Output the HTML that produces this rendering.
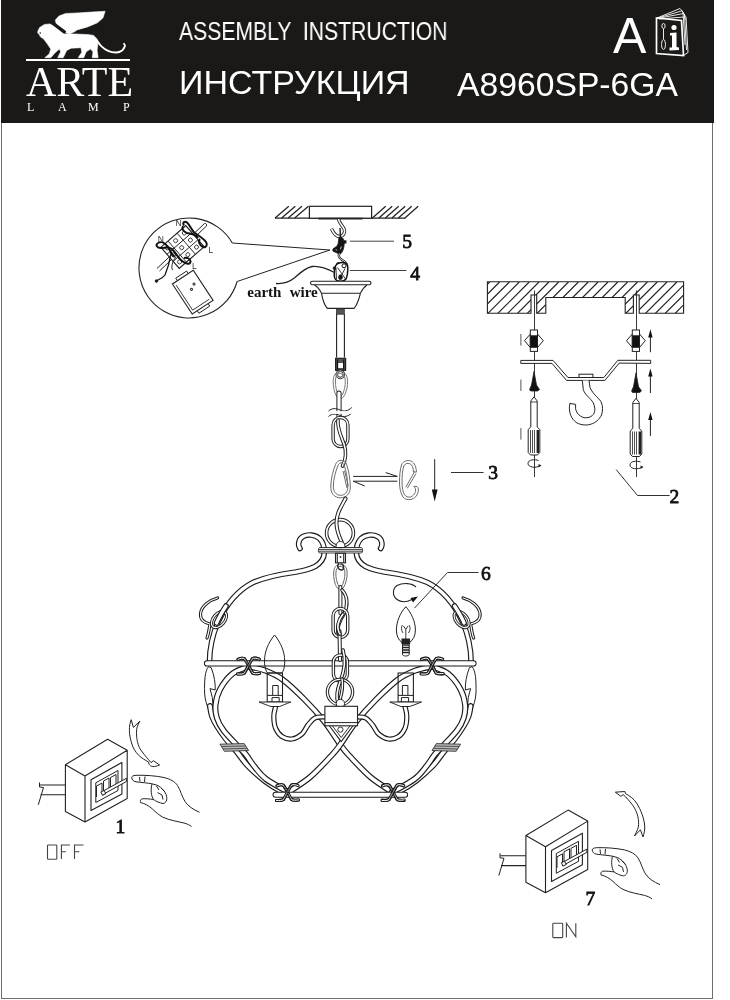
<!DOCTYPE html>
<html><head><meta charset="utf-8">
<style>
html,body{margin:0;padding:0;background:#fff;width:730px;height:1000px;overflow:hidden;-webkit-font-smoothing:antialiased;}
svg text{will-change:transform;}
.t{will-change:transform;}
body{position:relative;font-family:"Liberation Sans",sans-serif;}
#hdr{position:absolute;left:1px;top:0;width:713px;height:122.5px;background:#1b1917;}
#frame{position:absolute;left:1px;top:0;width:710px;height:997.5px;border:1.5px solid #6e6e6e;border-top:none;}
.lp{top:101px;font-size:12px;font-family:'Liberation Serif',serif;}
.t{position:absolute;color:#fff;white-space:pre;line-height:1;}
svg{position:absolute;left:0;top:0;}
</style></head><body>
<div id="frame"></div>
<div id="hdr"></div>
<div class="t" id="t1" style="left:179px;top:18.5px;font-size:25.5px;transform:scaleX(0.83);transform-origin:0 0;">ASSEMBLY  INSTRUCTION</div>
<div class="t" id="t2" style="left:179px;top:65px;font-size:34px;">ИНСТРУКЦИЯ</div>
<div class="t" id="t3" style="left:612.5px;top:11px;font-size:50px;">A</div>
<div class="t" id="t4" style="left:457px;top:67.5px;font-size:33.7px;">A8960SP-6GA</div>
<div class="t" id="t5" style="left:26px;top:60.5px;font-size:42px;font-family:'Liberation Serif',serif;">ARTE</div>
<div class="t lp" style="left:27px;">L</div><div class="t lp" style="left:58px;">A</div><div class="t lp" style="left:88px;">M</div><div class="t lp" style="left:123px;">P</div>
<svg width="730" height="1000" viewBox="0 0 730 1000" id="draw">
<g id="logo" fill="#fff" stroke="none">
<rect x="26" y="59" width="104" height="2"/>
<path d="M55.3,20.1 L59.0,16.0 L65.6,13.5 L77.9,12.9 L91.6,12.1 L105.1,11.3 L102.9,18.0 L97.4,22.8 L87.5,26.9 L77.9,29.7 L73.8,32.1 L69.7,34.0 L65.3,32.8 L60.4,28.3 L56.3,24.2 Z" stroke="#fff" stroke-width="0.6" stroke-linejoin="round"/>
<path d="M37.9,31.0 L39.6,27.6 L44.4,24.5 L49.9,23.9 L55.3,26.2 L60.8,31.0 L64.9,34.0 L75.2,34.0 L87.5,34.5 L93.7,35.4 L97.1,39.2 L97.8,44.7 L97.1,50.2 L98.1,57.7 L92.3,57.7 L93.0,51.6 L90.3,49.1 L86.2,51.8 L83.7,57.7 L78.2,57.7 L81.8,52.3 L81.0,47.7 L71.1,48.2 L66.7,50.5 L63.2,57.7 L57.7,57.7 L60.7,51.8 L59.3,49.1 L54.9,52.9 L50.8,57.7 L44.8,57.7 L49.2,54.0 L50.8,49.1 L47.1,43.6 L43.7,39.0 L40.4,36.8 L39.3,34.5 L37.7,33.1 Z" stroke="#fff" stroke-width="0.6" stroke-linejoin="round"/>
<path d="M96.0,39.2 C96.9,40.4 99.2,44.2 101.2,46.1 C103.2,48.0 105.6,49.8 108.1,50.9 C110.6,52.0 114.0,52.6 116.3,52.5 C118.6,52.5 120.6,51.6 122.1,50.5 C123.5,49.4 124.6,47.2 124.9,46.1 C125.3,45.0 124.1,44.2 124.0,43.8" fill="none" stroke="#fff" stroke-width="1.9" stroke-linecap="round"/>
<path d="M50.5,21.5 L64.3,31.8" stroke="#1b1917" stroke-width="3.4" stroke-linecap="round" fill="none"/>
<path d="M75.5,31 L86,28.5 L97,25.5 L104,22 L104,30 L97,33 L86,33.5 Z" fill="#1b1917" stroke="none"/>
<circle cx="40.3" cy="33" r="0.8" fill="#1b1917"/>
</g>
<g id="book" fill="none" stroke="#fff" stroke-width="0.9">
<path d="M656.5,18 L681.5,20.5 L683.5,55.5 L656.5,53.5 Z" fill="#1c1a19" stroke-width="1.7"/>
<path d="M657,18 L680,8.5 L683,12 L685,45" />
<path d="M657.5,18.2 L682,10.8 L684.5,14.5 L686.5,50"/>
<path d="M658,18.4 L683.5,13.5 L686,17 L688,52.5 L683.5,55.5"/>
<path d="M659,19 L684,17 L686,19.5"/>
<ellipse cx="663.5" cy="26" rx="1.6" ry="2.6"/>
<path d="M663.5,28.6 L663.5,39"/>
<ellipse cx="663.5" cy="44.5" rx="2" ry="5"/>
<circle cx="674" cy="27.5" r="2.6" fill="#fff" stroke="none"/>
<path d="M670,33 L676.5,32.5 L676.5,47 L679,47.5 L679,50 L669.5,50.5 L669.5,47.5 L672,47.5 L672,35.5 L670,35.5 Z" fill="#fff" stroke="none"/>
</g>
<g id="top" fill="none" stroke="#222" stroke-width="1">
<!-- ceiling hatch -->
<path d="M275,218.2 L405.5,218.2" stroke-width="1.2"/>
<path d="M275.1,218 L288.8,206.3 M281.6,218 L295.3,206.3 M288.2,218 L301.9,206.3 M294.7,218 L308.4,206.3 M372.4,218 L385.7,206.3 M378.9,218 L392.2,206.3 M385.4,218 L398.7,206.3 M391.9,218 L405.2,206.3 M398.4,218 L411.7,206.3 M404.9,218 L418.2,206.3" stroke-width="1.25"/>
<rect x="309.4" y="206.3" width="62.2" height="11.9" fill="#fff" stroke-width="1.2"/>
<path d="M318.5,218.6 L362.5,218.6" stroke-width="1.8"/>
<!-- hook -->
<path d="M338.5,219 C339,223 343,226 344.3,229.5 C345.5,233 343,236.5 339.5,236.5 C336,236.5 333,232 331.5,228.8" stroke-width="3.4"/>
<path d="M338.5,219 C339,223 343,226 344.3,229.5 C345.5,233 343,236.5 339.5,236.5 C336,236.5 333,232 331.5,228.8" stroke="#fff" stroke-width="1.6"/>
<path d="M340,228 L340.5,238" stroke-width="1.4"/>
<!-- connector 5 -->
<path d="M340.2,236.8 C342.8,237.2 344.3,239.5 344.2,244 C344,248.5 342.5,252.5 339.8,254.5 C337.5,253.3 335.5,252 333.5,251.5 C332.2,250.8 332.6,248.6 334.5,247.8 C337,246.8 338.3,244.5 338.5,241 C338.6,238.5 339,236.8 340.2,236.8 Z" fill="#151515" stroke="#151515" stroke-width="0.8"/>
<rect x="343.8" y="240.3" width="2.6" height="3.2" fill="#151515" stroke="none"/>
<path d="M341.3,246.5 L340.4,249.5 M335.6,249.6 L337.2,250.1" stroke="#fff" stroke-width="0.7"/>
<!-- wavy wire -->
<path d="M339.5,253.5 C338,256 339,258 341.5,259.5 C344,261 346,262 346.5,264" stroke-width="2.4"/>
<path d="M339.5,253.5 C338,256 339,258 341.5,259.5 C344,261 346,262 346.5,264" stroke="#fff" stroke-width="0.9"/>
<!-- connector 4 -->
<path d="M335.5,266 C337,263 340,262.5 343,262.6 C346,262.8 347.8,264.5 347.8,267.5 C347.8,272 347.5,276 346,279 C344.5,281 341,281.5 338.5,281 C336,280.5 334.5,279 334.3,276 C334.2,272 334.5,268.5 335.5,266 Z" fill="#fff" stroke="#111" stroke-width="1.5"/>
<circle cx="344" cy="265.8" r="2" fill="none" stroke="#111" stroke-width="1"/>
<path d="M337.5,267.5 L345.5,279 M345,268.5 L339.5,279.5 M336,269 L336.5,279" stroke="#222" stroke-width="0.9"/>
<ellipse cx="340.5" cy="277.2" rx="1.8" ry="2.4" fill="#111"/>
<circle cx="334.6" cy="268.2" r="1.4" fill="#111"/>
<path d="M336.5,263.8 L339,262.8" stroke="#111" stroke-width="1.5"/>
<!-- earth wire -->
<path d="M276,283.5 C284,284.2 290,281.5 295,277.5 C300,273 305,268 312,266.5 C320,265.5 328,269 334.5,272.5" stroke-width="1.3"/>
<!-- canopy -->
<path d="M312,281.2 L369.5,281.2 C371.5,281.5 371.5,284.5 369.5,284.8 L312,284.8 C310,284.5 310,281.5 312,281.2 Z" fill="#fff" stroke-width="1.1"/>
<path d="M314.5,285 C318,287 320,290 321.5,293.3 L360.4,293.3 C362,290 364,287 367,285" stroke-width="1.1"/>
<path d="M321.5,293.3 C322.5,299 324.5,305 327.3,308.4 L354,308.4 C357,305 359,299 360.4,293.3" stroke-width="1.1"/>
<rect x="336.5" y="309" width="7.8" height="5.2" fill="#555" stroke="#333" stroke-width="0.8"/>
<path d="M336.6,314 L336.6,357.5 M344.4,314 L344.4,357.5" stroke-width="1.1"/>
<!-- leader lines -->
<path d="M349.9,241.2 L394,241.2 M349.9,270.5 L406.5,270.5" stroke="#444" stroke-width="1"/>
<!-- callout -->
<path d="M232.3,243 L329.9,250 L237.1,281.5" stroke-width="1"/>
<path d="M232.3,243 A50,50 0 1 0 237.1,281.5" stroke-width="1.1"/>
</g>
<g id="inset" fill="none" stroke="#222" stroke-width="1">
<!-- rod through block -->
<path d="M157,268.5 L204.5,223.5 M159.5,271 L206.5,226" stroke-width="1"/>
<path d="M204.5,223.5 C206,223 207,224.5 206.5,226"/>
<!-- block -->
<g transform="translate(182.5,247) rotate(-41)">
<rect x="-16.5" y="-14" width="33" height="28" fill="#fff" stroke-width="1.1"/>
<path d="M-16.5,-4.7 L16.5,-4.7 M-16.5,4.7 L16.5,4.7 M-7,-14 L-7,14 M5,-14 L5,14" stroke-width="0.9"/>
<circle cx="-12" cy="-9.3" r="2" stroke-width="0.8"/><circle cx="-1" cy="-9.3" r="2" stroke-width="0.8"/><circle cx="10.5" cy="-9.3" r="2" stroke-width="0.8"/>
<circle cx="-12" cy="0" r="2" stroke-width="0.8"/><circle cx="-1" cy="0" r="2" stroke-width="0.8"/><circle cx="10.5" cy="0" r="2" stroke-width="0.8"/>
<circle cx="-12" cy="9.3" r="2" stroke-width="0.8"/><circle cx="-1" cy="9.3" r="2" stroke-width="0.8"/><circle cx="10.5" cy="9.3" r="2" stroke-width="0.8"/>
</g>
<!-- wires loops -->
<path d="M184,225.5 C182,222 185,221 187,222.5 C190,225 192,231 195,233 C199,236 203,238 206,242 C208,245 206,248 203,247 C199,245 198,241 200,239" stroke="#111" stroke-width="2"/>
<path d="M183,226 C181,229 184,232 187,233 C191,234 196,234 198,238" stroke="#111" stroke-width="2"/>
<path d="M158,243 C155,245 157,248 161,248 C165,248 168,246 172,249 C176,253 178,258 182,261 C186,264 190,265 190.5,262 C191,259 187,257 184,258" stroke="#111" stroke-width="2"/>
<path d="M158,243 C161,241 165,243 168,247 C170,250 171,254 175,257" stroke="#111" stroke-width="2"/>
<path d="M171,253 C170,260 168,268 165,275 C163,278 160,279 157,280.5" stroke="#111" stroke-width="1.3"/>
<circle cx="156.5" cy="281" r="1.3" fill="#111"/>
<path d="M176,257 C172,262 171,267 172.5,270"/>
<!-- transformer -->
<g transform="translate(172.4,284) rotate(-33.4)">
<path d="M0,0 L25,0 L25,36 L0,36 Z" fill="#fff" stroke-width="1.1"/>
<path d="M2.5,3 L2.5,33 L22.5,33" stroke-width="0.8"/>
<path d="M6,0 L6,-3 L19,-3 L19,0 M6,36 L6,39 L19,39 L19,36" stroke-width="0.9"/>
<circle cx="13" cy="15" r="1"/><circle cx="18" cy="12" r="1"/>
</g>
</g>
<g font-family="Liberation Sans" font-size="8.5" fill="#333" stroke="none">
<text x="175.5" y="225.8">N</text><text x="157.8" y="241.5">N</text><text x="208.5" y="253">L</text><text x="192" y="268.5">L</text>
</g>
<g id="right" fill="none" stroke="#222" stroke-width="1">
<clipPath id="rclip"><path d="M487.4,281.8 L683.6,281.8 L683.6,313.2 L639.2,313.2 L639.2,295 L633.4,295 L633.4,313.2 L625.2,313.2 L625.2,297.5 L545.8,297.5 L545.8,313.2 L536.7,313.2 L536.7,295 L531,295 L531,313.2 L487.4,313.2 Z"/></clipPath>
<path d="M447.9,314 L479.9,282 M457.8,314 L489.8,282 M467.6,314 L499.6,282 M477.4,314 L509.4,282 M487.3,314 L519.3,282 M497.2,314 L529.2,282 M507.0,314 L539.0,282 M516.9,314 L548.9,282 M526.7,314 L558.7,282 M536.5,314 L568.5,282 M546.4,314 L578.4,282 M556.2,314 L588.2,282 M566.1,314 L598.1,282 M576.0,314 L608.0,282 M585.8,314 L617.8,282 M595.6,314 L627.6,282 M605.5,314 L637.5,282 M615.4,314 L647.4,282 M625.2,314 L657.2,282 M635.0,314 L667.0,282 M644.9,314 L676.9,282 M654.8,314 L686.8,282 M664.6,314 L696.6,282 M674.5,314 L706.5,282 M684.3,314 L716.3,282 M694.1,314 L726.1,282 M704.0,314 L736.0,282 M713.9,314 L745.9,282 M723.7,314 L755.7,282 M733.5,314 L765.5,282" clip-path="url(#rclip)" stroke-width="1.1"/>
<path d="M487.4,281.8 L683.6,281.8 L683.6,313.2 L639.2,313.2 L639.2,295 L633.4,295 L633.4,313.2 L625.2,313.2 L625.2,297.5 L545.8,297.5 L545.8,313.2 L536.7,313.2 L536.7,295 L531,295 L531,313.2 L487.4,313.2 Z" stroke-width="1.1"/>
<!-- axis lines -->
<path d="M534.5,290.5 L534.5,477 M636.5,290.5 L636.5,477" stroke-width="0.9"/>
<!-- anchors -->
<g id="anc">
<rect x="530.3" y="330" width="7.2" height="21.4" fill="#fff"/>
<rect x="530.3" y="335.8" width="7.2" height="11.5" fill="#111"/>
<path d="M530.3,334 L524.5,340.7 L530.3,347.5 M537.5,334 L543.3,340.7 L537.5,347.5"/>
</g>
<use href="#anc" transform="translate(102,0)"/>
<!-- bracket -->
<path d="M520.8,360.4 L553,360.4 L567.9,377.5 L603.9,377.5 L617.8,360.3 L650.7,360.3 L650.7,363.4 L619.2,363.1 L604.9,380.4 L566.5,380.4 L552,363.4 L520.8,363.4 Z" fill="#fff" stroke-width="1"/>
<rect x="579" y="374.2" width="13.9" height="3.3" fill="#fff"/>
<!-- hook -->
<path d="M589,380.4 L590,387.6 C591.5,391 594,394 596.2,396.2 C599,399 601,401 601.5,403 C602.8,406 603,411 601.5,415 C599.5,419.5 595,423 591.4,424 C589.5,424.8 587.5,425 585.7,425 C582,425 579,424 577,423 C574,421 572,418.5 570.8,415.4 C569.6,412.5 569.3,409.5 569.4,406.8 L569.9,403.4 L575.6,404.4 L575.6,408.7 C576,411 577.3,413.5 579,414.9 C581,416.8 583.5,417.8 585.7,417.8 C589,417.8 591.8,416.5 593.4,414.4 C594.5,412.5 595,410.5 594.8,408.7 C594.6,406.5 594,404.8 593.4,403 C592,400.5 589.8,398.5 587.6,396.2 C585.5,394 584,392 583.3,389.5 L582.3,380.4" fill="#fff"/>
<!-- screws -->
<g id="scr">
<path d="M534,371.4 L531.5,385 L529.6,389.5 L530.5,391 L537.5,391 L539.5,389.5 L536.5,385 Z" fill="#111" stroke-width="0.8"/>
<path d="M534,396.8 L530.8,401 L530.8,427 L528.2,429.5 L528.2,452.5 L530.5,455 L537.5,455 L539.8,452.5 L539.8,429.5 L537.2,427 L537.2,401 Z" fill="#fff"/>
<path d="M530.8,402 L537.2,402 M530.5,430 L530.5,453 M532.5,430 L532.5,453 M534.5,430 L534.5,453" stroke-width="0.8"/>
<rect x="536.6" y="430" width="2.4" height="23" fill="#222" stroke="none"/>
<path d="M538.5,460.5 C535,459 528,459.5 528,463.5 C528,467.5 536,468.5 540.5,465.5" stroke-width="1"/>
<path d="M538.5,464 L541.5,465.5 L538.5,467.5 Z" fill="#222" stroke="none"/>
</g>
<use href="#scr" transform="translate(102,1.5)"/>
<!-- dashes left -->
<path d="M520.9,334 L520.9,345.6 M520.9,379.6 L520.9,391 M520.9,428 L520.9,439.6" stroke="#555" stroke-width="1"/>
<!-- arrows right -->
<path d="M650.4,336 L650.4,352.2 M650.4,375 L650.4,393 M650.4,419 L650.4,435.9" stroke-width="1"/>
<path d="M650.4,329.2 L648.2,337.5 L652.6,337.5 Z M650.4,368.6 L648.2,376.5 L652.6,376.5 Z M650.4,412 L648.2,420 L652.6,420 Z" fill="#111" stroke="none"/>
<!-- leader 2 -->
<path d="M616.2,469.6 L637.5,495.5 L669.6,495.5" stroke="#333"/>
</g>
<text x="669.5" y="502.5" font-family="Liberation Serif" font-size="19.5" fill="#111" stroke="#111" stroke-width="0.8">2</text>
<!--CHAIN--><g id="chain">
<rect x="335.6" y="358.3" width="10" height="12" fill="#555" stroke="#222" stroke-width="1.2"/><path d="M337.5,359.5 L337.5,369.5 M343.7,359.5 L343.7,369.5" stroke="#111" stroke-width="1.2"/><rect x="338.2" y="363" width="4.8" height="5" fill="#fff" stroke="none"/>
<circle cx="340.3" cy="374.4" r="3.6" fill="none" stroke="#222" stroke-width="2.4"/><circle cx="340.3" cy="374.4" r="3.6" fill="none" stroke="#fff" stroke-width="0.8"/>
<g fill="none" stroke="#777" stroke-width="1">
<path d="M340.3,371.3 C343.5,371.5 346.5,374 347.2,377.5 C348,381 347.8,388 345.5,393 C344.2,396.5 342.5,398.6 340.3,398.6 C338,398.6 336.2,396.5 335,393 C333,387 332.8,381 333.6,377.5 C334.3,374 337,371.3 340.3,371.3 Z"/>
<path d="M340.3,373.5 C342.5,373.7 344.5,375.5 345,378 C345.6,381.5 345.4,387.5 343.5,392 C342.5,395 341.5,396.3 340.3,396.3 C339,396.3 338,395 337.1,392 C335.3,387 335.1,381.5 335.7,378 C336.2,375.5 338,373.5 340.3,373.5 Z"/>
</g>
<path d="M339,393 L339,416" stroke="#222" stroke-width="5.2" fill="none" stroke-linecap="round"/><path d="M339,393 L339,416" stroke="#fff" stroke-width="3.2" fill="none" stroke-linecap="round"/>
<path d="M328.5,411 C332,408 336,408 340,410 C344,412 348,411 351.8,407.5 M328.5,416.5 C332,413.5 336,413.5 340,415.5 C344,417.5 348,416.5 351.8,413" fill="none" stroke="#222" stroke-width="1"/>
<rect x="330" y="411.2" width="22" height="2.6" fill="#fff" stroke="none"/>
<rect x="333.1" y="417.5" width="14.8" height="29.0" rx="7.4" ry="7.4" fill="none" stroke="#222" stroke-width="3.4"/><rect x="333.1" y="417.5" width="14.8" height="29.0" rx="7.4" ry="7.4" fill="none" stroke="#fff" stroke-width="1.4"/>
<path d="M338,420 C337,428 341,436 344,444 C346.5,451 346,460 342.5,466" stroke="#222" stroke-width="3.6" fill="none" stroke-linecap="round"/><path d="M338,420 C337,428 341,436 344,444 C346.5,451 346,460 342.5,466" stroke="#fff" stroke-width="1.6" fill="none" stroke-linecap="round"/>
<g fill="none" stroke="#6a6a6a" stroke-width="1">
<path d="M341,460.3 C338,460.5 336.5,462 335.5,464.5 C333,471 331,478 330.8,486 C330.5,493 334,497.8 340.5,497.8 C346.5,497.8 350.3,493.5 350.3,487 C350.3,479 348.5,470 346.5,464 C345.5,461.5 343.5,460.2 341,460.3 Z"/>
<path d="M341,462.8 C339.5,463 338.5,464 337.8,466 C335.5,472 333.5,479 333.3,486 C333.2,491.5 336,495.3 340.5,495.3 C345,495.3 347.8,492 347.8,487 C347.8,479.5 346.2,471.5 344.5,466 C343.8,463.8 342.5,462.7 341,462.8 Z"/>
<path d="M343,471 L347,488 M344.5,470.5 L348.3,486"/>
<path d="M416.5,472 C416,467 415,463 411,461 C407,459.8 403,461 401.5,465 C400,470 399.5,476 399.5,482 C399.5,488 400.5,493 403,497 C405,499.5 408,500 411,499.5 C414.5,498.5 417,496 418,492.5 C418.8,489.5 418.3,487.5 417,486.5"/>
<path d="M413.5,472 C413.3,468 412.5,465 410,463.8 C407.5,462.8 405,463.5 403.8,466 C402.5,470 402,476 402,482 C402,488 403,492 404.5,494.8 C406,496.8 408,497.3 410.5,497 C413,496.2 414.8,494 415.5,491.5 C416,489.5 415.2,487.5 413.8,486.3"/>
<path d="M416.5,472 L413.5,472 M414.7,471.4 L405.8,487.2 M416,473.5 L407.3,488.3 M417,486.5 L413.8,486.3"/>
</g>
<path d="M353.2,476.4 L397.3,476.4 L385.8,472.6 M397.3,481.2 L353.2,481.2 L364.7,486" fill="none" stroke="#222" stroke-width="1"/>
<path d="M434.7,459.2 L434.7,492" stroke="#222" stroke-width="1"/><path d="M431.8,489.5 L437.6,489.5 L434.7,501.4 Z" fill="#111"/>
<path d="M451,472.5 L483.6,472.5" stroke="#333" stroke-width="1"/>
</g>
<text x="488.2" y="479.3" font-family="Liberation Serif" font-size="19.5" fill="#111" stroke="#111" stroke-width="0.8">3</text><!--/CHAIN-->
<!--CHAND--><g id="chand">
<g id="chL"><path d="M300,548.5 C297.5,545 298.5,539 303,536.5 C308,534 315,534.5 319.5,538.5 C323,542 324.5,547 324.3,553 C324,558 321,563 315,566.5 C309,569.5 302,571 296,572 C285,573.5 268,576 253,582.5 C238,590 226,605 218,622 C212,636 209.5,648 209.5,662" stroke="#1a1a1a" stroke-width="5.6" fill="none" stroke-linecap="round"/><path d="M300,548.5 C297.5,545 298.5,539 303,536.5 C308,534 315,534.5 319.5,538.5 C323,542 324.5,547 324.3,553 C324,558 321,563 315,566.5 C309,569.5 302,571 296,572 C285,573.5 268,576 253,582.5 C238,590 226,605 218,622 C212,636 209.5,648 209.5,662" stroke="#fff" stroke-width="3.3" fill="none" stroke-linecap="round"/>
<path d="M217.5,598 C210,600 201,606 200.5,614 C200,620 205,623 210,624 C209,630 208.5,634 207,638" stroke="#1a1a1a" stroke-width="3.2" fill="none" stroke-linecap="round"/><path d="M217.5,598 C210,600 201,606 200.5,614 C200,620 205,623 210,624 C209,630 208.5,634 207,638" stroke="#fff" stroke-width="1.2000000000000002" fill="none" stroke-linecap="round"/>
<ellipse cx="219" cy="619.5" rx="9.5" ry="5.8" transform="rotate(-50 219 619.5)" stroke="#222" stroke-width="3" fill="none"/><ellipse cx="219" cy="619.5" rx="9.5" ry="5.8" transform="rotate(-50 219 619.5)" stroke="#fff" stroke-width="1.2" fill="none"/>
<path d="M226,606 C222,612 219,617 216.5,623" stroke="#1a1a1a" stroke-width="5.6" fill="none" stroke-linecap="round"/><path d="M226,606 C222,612 219,617 216.5,623" stroke="#fff" stroke-width="3.3" fill="none" stroke-linecap="round"/>
<path d="M208.5,666.6 C205,671 204.3,680 204.6,693 C205,700 207,706 209,710 C211,716 213,720 214.5,722 L212.3,697.4 L210,688.6 L215.2,690 C215.5,684 214.5,676 211.2,667.7 Z" fill="#fff" stroke="#222" stroke-width="1"/>
<path d="M210.0,706.0 C210.3,707.7 210.8,712.7 212.0,716.0 C213.2,719.3 214.7,722.2 217.0,726.0 C219.3,729.8 222.7,734.7 226.0,739.0 C229.3,743.3 233.3,747.5 237.0,752.0 C240.7,756.5 243.3,761.2 248.0,766.0 C252.7,770.8 259.5,776.8 265.0,781.0 C270.5,785.2 277.0,789.0 281.0,791.0 C285.0,793.0 287.7,792.7 289.0,793.0" stroke="#1a1a1a" stroke-width="6.0" fill="none" stroke-linecap="round"/><path d="M210.0,706.0 C210.3,707.7 210.8,712.7 212.0,716.0 C213.2,719.3 214.7,722.2 217.0,726.0 C219.3,729.8 222.7,734.7 226.0,739.0 C229.3,743.3 233.3,747.5 237.0,752.0 C240.7,756.5 243.3,761.2 248.0,766.0 C252.7,770.8 259.5,776.8 265.0,781.0 C270.5,785.2 277.0,789.0 281.0,791.0 C285.0,793.0 287.7,792.7 289.0,793.0" stroke="#fff" stroke-width="3.7" fill="none" stroke-linecap="round"/>
<path d="M248.0,666.5 C245.4,667.7 237.2,669.9 232.5,673.7 C227.8,677.5 222.8,684.3 220.0,689.5 C217.2,694.7 216.0,700.2 215.5,705.0 C215.0,709.8 215.7,714.1 217.0,718.3 C218.3,722.5 220.4,726.2 223.5,730.4 C226.6,734.6 231.7,739.7 235.4,743.6 C239.1,747.5 242.4,750.3 245.5,754.0 C248.6,757.7 250.6,761.8 254.0,766.0 C257.4,770.2 260.2,774.6 266.0,779.0 C271.8,783.4 285.2,790.2 289.0,792.5" stroke="#1a1a1a" stroke-width="6.0" fill="none" stroke-linecap="round"/><path d="M248.0,666.5 C245.4,667.7 237.2,669.9 232.5,673.7 C227.8,677.5 222.8,684.3 220.0,689.5 C217.2,694.7 216.0,700.2 215.5,705.0 C215.0,709.8 215.7,714.1 217.0,718.3 C218.3,722.5 220.4,726.2 223.5,730.4 C226.6,734.6 231.7,739.7 235.4,743.6 C239.1,747.5 242.4,750.3 245.5,754.0 C248.6,757.7 250.6,761.8 254.0,766.0 C257.4,770.2 260.2,774.6 266.0,779.0 C271.8,783.4 285.2,790.2 289.0,792.5" stroke="#fff" stroke-width="3.7" fill="none" stroke-linecap="round"/>
<path d="M249.0,666.5 C251.7,667.2 259.4,668.3 265.0,670.5 C270.6,672.7 276.0,674.8 282.5,679.5 C289.0,684.2 297.0,692.0 304.0,699.0 C311.0,706.0 318.2,713.9 324.4,721.7 C330.6,729.5 336.9,740.0 341.2,745.9 C345.5,751.8 345.4,751.5 350.3,756.8 C355.2,762.0 363.7,771.4 370.8,777.4 C377.9,783.4 389.3,790.0 393.0,792.5" stroke="#1a1a1a" stroke-width="6.0" fill="none" stroke-linecap="round"/><path d="M249.0,666.5 C251.7,667.2 259.4,668.3 265.0,670.5 C270.6,672.7 276.0,674.8 282.5,679.5 C289.0,684.2 297.0,692.0 304.0,699.0 C311.0,706.0 318.2,713.9 324.4,721.7 C330.6,729.5 336.9,740.0 341.2,745.9 C345.5,751.8 345.4,751.5 350.3,756.8 C355.2,762.0 363.7,771.4 370.8,777.4 C377.9,783.4 389.3,790.0 393.0,792.5" stroke="#fff" stroke-width="3.7" fill="none" stroke-linecap="round"/>
<path d="M275.5,707.0 C275.2,708.5 273.8,712.5 273.8,716.0 C273.8,719.5 274.1,724.6 275.5,728.0 C276.9,731.4 279.2,734.7 282.0,736.5 C284.8,738.3 288.7,739.4 292.0,739.0 C295.3,738.6 299.3,736.3 302.0,734.0 C304.7,731.7 305.8,727.7 308.0,725.0 C310.2,722.3 312.2,719.4 315.0,718.0 C317.8,716.6 323.3,717.0 325.0,716.8" stroke="#1a1a1a" stroke-width="5.2" fill="none" stroke-linecap="round"/><path d="M275.5,707.0 C275.2,708.5 273.8,712.5 273.8,716.0 C273.8,719.5 274.1,724.6 275.5,728.0 C276.9,731.4 279.2,734.7 282.0,736.5 C284.8,738.3 288.7,739.4 292.0,739.0 C295.3,738.6 299.3,736.3 302.0,734.0 C304.7,731.7 305.8,727.7 308.0,725.0 C310.2,722.3 312.2,719.4 315.0,718.0 C317.8,716.6 323.3,717.0 325.0,716.8" stroke="#fff" stroke-width="2.9" fill="none" stroke-linecap="round"/>
<rect x="267.2" y="673" width="15.3" height="29" fill="none" stroke="#222" stroke-width="1.1"/>
<path d="M272.7,695.4 L272.7,685.5 L278.2,685.5 L278.2,695.4 M267.2,695.4 L282.5,695.4 M272,702 L272,697.6 L279.2,697.6 L279.2,702" fill="none" stroke="#222" stroke-width="1"/>
<path d="M259,702 L290.8,702 C286,704 282,705.5 279.8,706.5 L271,706.5 C268,705.5 264,704 259,702 Z" fill="#fff" stroke="#222" stroke-width="1"/>
<g transform="translate(248.5,666) scale(1.0)" fill="none" stroke-linecap="round"><path d="M-10.5,-6.6 C-8,-7.8 -5.5,-8.2 -4,-7.2 C-2,-4.5 2,3.5 4,7 C5.5,8 8,7.8 11,7.4" stroke="#1a1a1a" stroke-width="3.0"/><path d="M-10.5,-6.6 C-8,-7.8 -5.5,-8.2 -4,-7.2 C-2,-4.5 2,3.5 4,7 C5.5,8 8,7.8 11,7.4" stroke="#fff" stroke-width="1.0"/><path d="M10.7,-6.8 C8,-7.9 5.5,-8.2 4,-7.4 C2,-4.5 -2,3.5 -4,7 C-5.5,8.2 -8,8.2 -11,8" stroke="#1a1a1a" stroke-width="3.0"/><path d="M10.7,-6.8 C8,-7.9 5.5,-8.2 4,-7.4 C2,-4.5 -2,3.5 -4,7 C-5.5,8.2 -8,8.2 -11,8" stroke="#fff" stroke-width="1.0"/><path d="M-3,-6 L3,6 M3,-6 L-3,6" stroke="#1a1a1a" stroke-width="0.6"/></g>
<g transform="translate(287.5,792.5) scale(1.0)" fill="none" stroke-linecap="round"><path d="M-10.5,-6.6 C-8,-7.8 -5.5,-8.2 -4,-7.2 C-2,-4.5 2,3.5 4,7 C5.5,8 8,7.8 11,7.4" stroke="#1a1a1a" stroke-width="3.0"/><path d="M-10.5,-6.6 C-8,-7.8 -5.5,-8.2 -4,-7.2 C-2,-4.5 2,3.5 4,7 C5.5,8 8,7.8 11,7.4" stroke="#fff" stroke-width="1.0"/><path d="M10.7,-6.8 C8,-7.9 5.5,-8.2 4,-7.4 C2,-4.5 -2,3.5 -4,7 C-5.5,8.2 -8,8.2 -11,8" stroke="#1a1a1a" stroke-width="3.0"/><path d="M10.7,-6.8 C8,-7.9 5.5,-8.2 4,-7.4 C2,-4.5 -2,3.5 -4,7 C-5.5,8.2 -8,8.2 -11,8" stroke="#fff" stroke-width="1.0"/><path d="M-3,-6 L3,6 M3,-6 L-3,6" stroke="#1a1a1a" stroke-width="0.6"/></g>
<path d="M220,744.2 L244.2,743.6 L248.6,750.5 L224.4,751.3 Z" fill="#bbb" stroke="#333" stroke-width="0.9"/><path d="M221.5,746.5 L245.6,746 M223,749 L247.2,748.3" stroke="#333" stroke-width="0.8"/></g>
<use href="#chL" transform="translate(680.6,0) scale(-1,1)"/>
<path d="M207,663.4 L473.5,663.4" stroke="#1a1a1a" stroke-width="6.2" fill="none" stroke-linecap="round"/><path d="M207,663.4 L473.5,663.4" stroke="#fff" stroke-width="4.2" fill="none" stroke-linecap="round"/>
<path d="M275.5,794.8 L405.1,794.8" stroke="#1a1a1a" stroke-width="6.0" fill="none" stroke-linecap="round"/><path d="M275.5,794.8 L405.1,794.8" stroke="#fff" stroke-width="4.0" fill="none" stroke-linecap="round"/>
<g transform="translate(248.5,666) scale(1.0)" fill="none" stroke-linecap="round"><path d="M-10.5,-6.6 C-8,-7.8 -5.5,-8.2 -4,-7.2 C-2,-4.5 2,3.5 4,7 C5.5,8 8,7.8 11,7.4" stroke="#1a1a1a" stroke-width="3.0"/><path d="M-10.5,-6.6 C-8,-7.8 -5.5,-8.2 -4,-7.2 C-2,-4.5 2,3.5 4,7 C5.5,8 8,7.8 11,7.4" stroke="#fff" stroke-width="1.0"/><path d="M10.7,-6.8 C8,-7.9 5.5,-8.2 4,-7.4 C2,-4.5 -2,3.5 -4,7 C-5.5,8.2 -8,8.2 -11,8" stroke="#1a1a1a" stroke-width="3.0"/><path d="M10.7,-6.8 C8,-7.9 5.5,-8.2 4,-7.4 C2,-4.5 -2,3.5 -4,7 C-5.5,8.2 -8,8.2 -11,8" stroke="#fff" stroke-width="1.0"/><path d="M-3,-6 L3,6 M3,-6 L-3,6" stroke="#1a1a1a" stroke-width="0.6"/></g>
<g transform="translate(432.1,666) scale(1.0)" fill="none" stroke-linecap="round"><path d="M-10.5,-6.6 C-8,-7.8 -5.5,-8.2 -4,-7.2 C-2,-4.5 2,3.5 4,7 C5.5,8 8,7.8 11,7.4" stroke="#1a1a1a" stroke-width="3.0"/><path d="M-10.5,-6.6 C-8,-7.8 -5.5,-8.2 -4,-7.2 C-2,-4.5 2,3.5 4,7 C5.5,8 8,7.8 11,7.4" stroke="#fff" stroke-width="1.0"/><path d="M10.7,-6.8 C8,-7.9 5.5,-8.2 4,-7.4 C2,-4.5 -2,3.5 -4,7 C-5.5,8.2 -8,8.2 -11,8" stroke="#1a1a1a" stroke-width="3.0"/><path d="M10.7,-6.8 C8,-7.9 5.5,-8.2 4,-7.4 C2,-4.5 -2,3.5 -4,7 C-5.5,8.2 -8,8.2 -11,8" stroke="#fff" stroke-width="1.0"/><path d="M-3,-6 L3,6 M3,-6 L-3,6" stroke="#1a1a1a" stroke-width="0.6"/></g>
<g transform="translate(287.5,792.5) scale(1.0)" fill="none" stroke-linecap="round"><path d="M-10.5,-6.6 C-8,-7.8 -5.5,-8.2 -4,-7.2 C-2,-4.5 2,3.5 4,7 C5.5,8 8,7.8 11,7.4" stroke="#1a1a1a" stroke-width="3.0"/><path d="M-10.5,-6.6 C-8,-7.8 -5.5,-8.2 -4,-7.2 C-2,-4.5 2,3.5 4,7 C5.5,8 8,7.8 11,7.4" stroke="#fff" stroke-width="1.0"/><path d="M10.7,-6.8 C8,-7.9 5.5,-8.2 4,-7.4 C2,-4.5 -2,3.5 -4,7 C-5.5,8.2 -8,8.2 -11,8" stroke="#1a1a1a" stroke-width="3.0"/><path d="M10.7,-6.8 C8,-7.9 5.5,-8.2 4,-7.4 C2,-4.5 -2,3.5 -4,7 C-5.5,8.2 -8,8.2 -11,8" stroke="#fff" stroke-width="1.0"/><path d="M-3,-6 L3,6 M3,-6 L-3,6" stroke="#1a1a1a" stroke-width="0.6"/></g>
<g transform="translate(393.1,792.5) scale(1.0)" fill="none" stroke-linecap="round"><path d="M-10.5,-6.6 C-8,-7.8 -5.5,-8.2 -4,-7.2 C-2,-4.5 2,3.5 4,7 C5.5,8 8,7.8 11,7.4" stroke="#1a1a1a" stroke-width="3.0"/><path d="M-10.5,-6.6 C-8,-7.8 -5.5,-8.2 -4,-7.2 C-2,-4.5 2,3.5 4,7 C5.5,8 8,7.8 11,7.4" stroke="#fff" stroke-width="1.0"/><path d="M10.7,-6.8 C8,-7.9 5.5,-8.2 4,-7.4 C2,-4.5 -2,3.5 -4,7 C-5.5,8.2 -8,8.2 -11,8" stroke="#1a1a1a" stroke-width="3.0"/><path d="M10.7,-6.8 C8,-7.9 5.5,-8.2 4,-7.4 C2,-4.5 -2,3.5 -4,7 C-5.5,8.2 -8,8.2 -11,8" stroke="#fff" stroke-width="1.0"/><path d="M-3,-6 L3,6 M3,-6 L-3,6" stroke="#1a1a1a" stroke-width="0.6"/></g>
<rect x="318.3" y="547.3" width="44.3" height="5.8" rx="1.5" fill="#fff" stroke="none"/><path d="M319.5,547.5 L361.5,547.5 M318.8,549.4 L362.2,549.4 M318.8,551.2 L362.2,551.2 M319.5,553 L361.5,553 M319.5,547.5 C318,547.8 318,552.7 319.5,553 M361.5,547.5 C363,547.8 363,552.7 361.5,553" fill="none" stroke="#222" stroke-width="0.9"/>
<circle cx="340" cy="533" r="13.4" fill="none" stroke="#222" stroke-width="3.6"/><circle cx="340" cy="533" r="13.4" fill="none" stroke="#fff" stroke-width="1.6"/>
<path d="M345.5,498.5 C341,507 336,514 336.5,524 C337,533 340,538 342.5,544" stroke="#1a1a1a" stroke-width="4.0" fill="none" stroke-linecap="round"/><path d="M345.5,498.5 C341,507 336,514 336.5,524 C337,533 340,538 342.5,544" stroke="#fff" stroke-width="2.0" fill="none" stroke-linecap="round"/>
<path d="M336,547.5 C336,543 338,541.5 340.5,541.5 C343,541.5 345,543 345,547.5 Z" fill="#fff" stroke="#222" stroke-width="1"/>
<rect x="335.5" y="553.3" width="10" height="9.5" fill="#fff" stroke="#222" stroke-width="1.1"/><path d="M337.3,553.3 L337.3,562.8 M343.7,553.3 L343.7,562.8" stroke="#333" stroke-width="1.2"/><circle cx="340.5" cy="557" r="0.9" fill="#333"/>
<g stroke-linecap="round">
<g fill="none" stroke="#666" stroke-width="1"><path d="M340.5,564 C343.5,564.2 346.3,566.5 346.9,570 C347.5,573.5 347,580 345,584.5 C343.8,587.5 342.3,589.5 340.3,589.5 C338.2,589.5 336.5,587.5 335.4,584.5 C333.5,579 333.2,573.5 334,570 C334.8,566.5 337.3,564 340.5,564 Z"/><path d="M340.5,566.3 C342.5,566.5 344.3,568 344.7,570.5 C345.2,573.5 344.8,579 343.2,583 C342.3,585.5 341.4,587.2 340.3,587.2 C339.2,587.2 338.2,585.5 337.4,583 C335.8,578.5 335.5,573.5 336.2,570.5 C336.8,568 338.3,566.3 340.5,566.3 Z"/></g>
<path d="M338.5,563.5 C337,566 338,570 341.5,570 C344,570 344.5,566 342,564" fill="none" stroke="#222" stroke-width="1.4"/>
<path d="M340.4,587 L340.4,613" stroke="#1a1a1a" stroke-width="4.0" fill="none" stroke-linecap="round"/><path d="M340.4,587 L340.4,613" stroke="#fff" stroke-width="2.0" fill="none" stroke-linecap="round"/>
<path d="M342,590 C348,596 348,606 344,614 C340,620 337,626 338,633" stroke="#1a1a1a" stroke-width="3.6" fill="none" stroke-linecap="round"/><path d="M342,590 C348,596 348,606 344,614 C340,620 337,626 338,633" stroke="#fff" stroke-width="1.6" fill="none" stroke-linecap="round"/>
<rect x="333.09999999999997" y="608.5" width="14.6" height="29.0" rx="7.3" ry="7.3" fill="none" stroke="#222" stroke-width="3.4"/><rect x="333.09999999999997" y="608.5" width="14.6" height="29.0" rx="7.3" ry="7.3" fill="none" stroke="#fff" stroke-width="1.4"/>
<path d="M339.5,631 L340,660" stroke="#1a1a1a" stroke-width="4.0" fill="none" stroke-linecap="round"/><path d="M339.5,631 L340,660" stroke="#fff" stroke-width="2.0" fill="none" stroke-linecap="round"/>
<path d="M343,614 C338,620 336,628 340,634" stroke="#1a1a1a" stroke-width="3.6" fill="none" stroke-linecap="round"/><path d="M343,614 C338,620 336,628 340,634" stroke="#fff" stroke-width="1.6" fill="none" stroke-linecap="round"/>
<rect x="333.4" y="655" width="14" height="26" rx="7" ry="7" fill="none" stroke="#222" stroke-width="3.4"/><rect x="333.4" y="655" width="14" height="26" rx="7" ry="7" fill="none" stroke="#fff" stroke-width="1.4"/>
<path d="M343,650 C346,660 344,672 340,682 C337,690 336,697 338,703" stroke="#1a1a1a" stroke-width="3.6" fill="none" stroke-linecap="round"/><path d="M343,650 C346,660 344,672 340,682 C337,690 336,697 338,703" stroke="#fff" stroke-width="1.6" fill="none" stroke-linecap="round"/>
</g>
<circle cx="340" cy="692" r="12.6" fill="none" stroke="#222" stroke-width="3.4"/><circle cx="340" cy="692" r="12.6" fill="none" stroke="#fff" stroke-width="1.4"/>
<path d="M342,679 C344,688 341,696 339,703" stroke="#1a1a1a" stroke-width="3.4" fill="none" stroke-linecap="round"/><path d="M342,679 C344,688 341,696 339,703" stroke="#fff" stroke-width="1.4" fill="none" stroke-linecap="round"/>
<circle cx="340.4" cy="703.5" r="4.2" fill="#fff" stroke="#222" stroke-width="1"/>
<path d="M329.5,726 L341.2,741.5 L352.8,726" fill="#fff" stroke="#222" stroke-width="1.1"/><path d="M332.5,726 L341.2,737.5 L349.9,726" fill="none" stroke="#222" stroke-width="0.9"/><circle cx="340.4" cy="729.6" r="2.6" fill="#fff" stroke="#222" stroke-width="0.9"/>
<rect x="324.9" y="706.3" width="32.6" height="19.5" fill="#fff" stroke="#222" stroke-width="1.1"/><path d="M324.9,722.6 L357.5,722.6" stroke="#222" stroke-width="1"/>
<path d="M274.6,635 C268,643 264.5,652 264.5,661 C264.5,667 266,671 267.5,673 L282,673 C283.5,671 284.7,667 284.7,661 C284.7,652 281,643 274.6,635 Z" fill="none" stroke="#222" stroke-width="1"/>
<g fill="none" stroke="#222" stroke-width="1">
<path d="M405.8,606.7 C400,613 396.4,622 396.4,630 C396.4,636 398.5,640 402,642.5 L409.6,642.5 C413,640 415.4,636 415.4,630 C415.4,622 411.5,613 405.8,606.7 Z"/>
<path d="M403,633 C401,630 401,627 402.5,625 M408.5,633 C410.5,630 410.5,627 409,625 M403.5,626 L405.8,629.5 L408,626 M405.8,629.5 L405.8,639" stroke-width="0.9"/>
<rect x="402" y="639" width="7.6" height="4.5" fill="#222"/>
<path d="M402.5,645 L409.2,645 M402.5,647.5 L409.2,647.5 M402.5,650 L409.2,650 M402.5,652.5 L409.2,652.5" stroke-width="1.4"/>
<path d="M402.5,643.5 L402.5,654.5 C403,656.5 408.5,656.5 409.2,654.5 L409.2,643.5"/>
</g>
<path d="M416,587 C412,583 403,582.5 397,585.5 C392,589 392.5,596 397,599.5 C401,602.5 407,602 412,599.5" fill="none" stroke="#222" stroke-width="1.1"/><path d="M418,596.5 L410.5,598 L413,602.5 Z" fill="#111"/>
<path d="M414.5,608.1 L447.5,572.5 L478.6,572.5" fill="none" stroke="#333" stroke-width="1"/>
</g>
<text x="481" y="580.3" font-family="Liberation Serif" font-size="19.5" fill="#111" stroke="#111" stroke-width="0.8">6</text><!--/CHAND-->
<!--SW--><g id="swbox" fill="none" stroke="#222" stroke-width="1.1" stroke-linejoin="round">
<path d="M65.4,764.7 L107.6,739.3 L127.2,750.3 L85,776 Z M65.4,764.7 L65.4,811.4 L85,821.9 L127.2,798.6 L127.2,750.3 M85,776 L85,821.9" fill="#fff"/>
<path d="M91,779.7 L121.9,762.4 L121.9,794 L91,810.6 Z"/>
<path d="M95.8,782.8 L118,770.5 L118,790.5 L95.8,802.5 Z" stroke-width="1"/>
<path d="M96.5,797 L96.5,786 L102,783 L102,794 M103.5,793 L103.5,781 L109,778 L109,790 M110.5,789 L110.5,777.5 L116,774.5 L116,786" stroke-width="1"/>
<path d="M102.3,791.5 L126.4,778.3 L126.4,781.5 L102.3,794.8 Z" fill="#fff" stroke-width="1"/>
<rect x="101.5" y="791" width="3.6" height="3.6" fill="#fff" stroke-width="0.9" transform="rotate(-28 103.3 792.8)"/>
<path d="M39.8,785 L65.4,785 M40.5,794.8 L65.4,794.8"/>
<path d="M39.5,782.5 L39.5,787 L43.5,787.5 L38.3,804.8" stroke-width="1"/>
</g>
<use href="#swbox" transform="translate(460.5,70.8)"/>
<g id="hand" fill="none" stroke="#222" stroke-width="1">
<path d="M199.5,812.3 C193,809.5 188,806 185,801.5 C182,797 180.5,790 177.5,785.5 C175,781.5 170,779 164,777.5 C156,775.8 145,775 136,775.3 C133,775.5 131.5,776.5 131.7,777.6 C132,779.5 133,781.3 136,781.8 C141,782.5 148,783 152,783.8 L157,785.2"/>
<path d="M152,784 C150.5,789 151,796 153.5,799.5 C150,799 145.5,798.5 142.2,798.8 C140.5,799.3 140,801 140.5,802.5 C145,803.5 149,806 152.5,809 C156,812.5 159,815 162.5,817 C170,820.5 178,821.5 184,823 C187.5,824 189.5,825 191.5,826.5"/>
<path d="M153.5,799.5 C156,801.5 160,803 163,803.5 C166,803 167.5,800 166.5,796 C165.5,792 162,787.5 157,785.2"/>
<path d="M139.5,777 L140,781.5 M145,776.5 L144.5,782 M156.5,786 L159,790 M161,788 L165,792 M157.5,792.5 L162,795 L163,799.5"/>
</g>
<use href="#hand" transform="translate(460.5,72.4)"/>
<path d="M131.2,719.7 L133.4,727.4 L139.9,721.2 C137.5,725 136.3,728.5 136.5,732.3 C136.5,736 136.8,739 137.4,741.6 C138.5,746 140,749.5 142.3,752 C144.5,755 148,759 151,762.6 L153.4,760.7 L159.6,765 C157,766 155,766.6 152.8,766.6 C151,766.4 150,765.5 149.1,764.4 L148.5,762 C145,760 141.5,758 138.6,755.2 C135.5,752 133,748 131.9,744 C130.3,739 129.4,735 129.4,730.5 C129.4,726 130,722.5 131.2,719.7 Z" fill="none" stroke="#222" stroke-width="1" stroke-linejoin="round"/>
<path d="M615.3,792.2 L624.9,791.5 L625.5,793.6 C630,796 634,799 636.5,803 C641,810 644,818 644.7,826 C645,830 644,834 643,837 L640.4,829.8 L634.5,836 C637,831 638.5,828 638.6,824.7 C639,818 636.5,810 632.4,804.9 C629.5,801 626.5,797.5 623.2,794.6 L620.8,796.3 Z" fill="none" stroke="#222" stroke-width="1" stroke-linejoin="round"/>
<g fill="none" stroke="#444" stroke-width="1.1">
<rect x="47.5" y="845" width="9.3" height="14.2" rx="0.8"/>
<path d="M61.4,859 L61.4,845 L70,845 M61.4,851.8 L65.9,851.8 M74.5,859 L74.5,845 L83.5,845 M74.5,851.8 L79.4,851.8"/>
<rect x="552.8" y="923.2" width="9.9" height="14.4" rx="0.8"/>
<path d="M566.4,937.6 L566.4,923.2 L575.8,936.8 L575.8,923.2"/>
</g>
<text x="115.6" y="833.4" font-family="Liberation Serif" font-size="19.5" fill="#111" stroke="#111" stroke-width="0.8">1</text>
<text x="585.6" y="905" font-family="Liberation Serif" font-size="19.5" fill="#111" stroke="#111" stroke-width="0.8">7</text><!--/SW-->
<g id="labels" font-family="Liberation Serif" fill="#111" stroke="#111" stroke-width="0.8">
<text x="402.3" y="248" font-size="19.5">5</text>
<text x="410.3" y="280" font-size="19.5">4</text>
</g>
<text id="ew" x="247.3" y="296.6" font-family="Liberation Serif" font-weight="bold" font-size="15" letter-spacing="0" word-spacing="4.5" fill="#111">earth wire</text>
</svg>
</body></html>
